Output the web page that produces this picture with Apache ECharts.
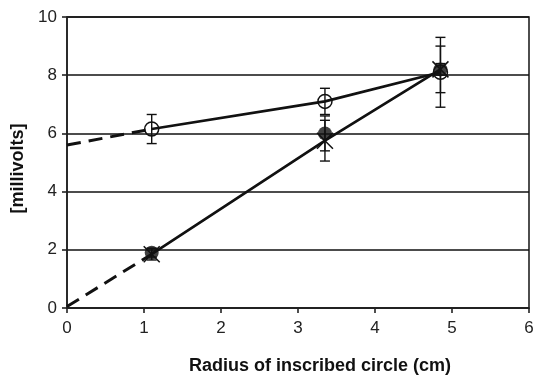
<!DOCTYPE html>
<html>
<head>
<meta charset="utf-8">
<script src="https://cdn.jsdelivr.net/npm/echarts@6/dist/echarts.min.js"></script>
<style>
  html, body { margin: 0; padding: 0; background: #fff; }
  #chart { width: 533px; height: 375px; }
</style>
</head>
<body>
<div id="chart"></div>
<script>
// radius of inscribed circle (cm)
const radii = [1.1, 3.35, 4.85]

// open circles
const openMean = [6.15, 7.1, 8.1]
const openErr = [0.5, 0.45, 1.2]
// filled circles
const filledMean = [1.9, 6.0, 8.2]
const filledErr = [0.15, 0.6, 0.2]
// crosses
const crossMean = [1.85, 5.75, 8.2]
const crossErr = [0.2, 0.7, 0.8]

// dashed extrapolation back to r = 0
const openExtrap = [[0, 5.6], [1.1, 6.15]]
const crossExtrap = [[0, 0.05], [1.1, 1.85]]

const xTicks = [0, 1, 2, 3, 4, 5, 6]
const yTicks = [0, 2, 4, 6, 8, 10]

const INK = '#111'
const FONT = 'Liberation Sans, Arial, sans-serif'

const pairs = (means) => radii.map((r, i) => [r, means[i]])
const errRows = (means, errs) =>
  radii.map((r, i) => [r, means[i] - errs[i], means[i] + errs[i]])

// vertical error bar with caps
const renderErr = (params, api) => {
  const x = api.value(0)
  const lo = api.coord([x, api.value(1)])
  const hi = api.coord([x, api.value(2)])
  const cap = 5
  const style = { stroke: INK, lineWidth: 1.4 }
  return {
    type: 'group',
    children: [
      { type: 'line', shape: { x1: lo[0], y1: lo[1], x2: hi[0], y2: hi[1] }, style },
      { type: 'line', shape: { x1: lo[0] - cap, y1: lo[1], x2: lo[0] + cap, y2: lo[1] }, style },
      { type: 'line', shape: { x1: hi[0] - cap, y1: hi[1], x2: hi[0] + cap, y2: hi[1] }, style },
    ],
  }
}

const errSeries = (means, errs) => ({
  type: 'custom',
  renderItem: renderErr,
  data: errRows(means, errs),
  encode: { x: 0, y: [1, 2] },
  silent: true,
  z: 3,
})

const chart = echarts.init(document.getElementById('chart'), null, { renderer: 'canvas' })

chart.setOption({
  animation: false,
  backgroundColor: '#fff',
  grid: {
    left: 67, right: 4, top: 17, bottom: 67,
    outerBoundsMode: 'none',
    show: true, borderColor: '#222', borderWidth: 1.6,
  },
  xAxis: {
    type: 'value',
    min: xTicks[0], max: xTicks[xTicks.length - 1], interval: 1,
    name: 'Radius of inscribed circle (cm)',
    nameLocation: 'middle',
    nameGap: 49,
    nameTextStyle: {
      fontFamily: FONT, fontWeight: 'bold', fontSize: 18, color: INK,
      padding: [0, 0, 0, 44],
    },
    axisLine: { lineStyle: { color: '#222', width: 1.6 } },
    axisTick: { show: true, length: 5, lineStyle: { color: '#222', width: 1.6 } },
    axisLabel: { fontFamily: FONT, fontSize: 17, color: '#222', margin: 12 },
    splitLine: { show: false },
  },
  yAxis: {
    type: 'value',
    min: yTicks[0], max: yTicks[yTicks.length - 1], interval: 2,
    name: '[millivolts]',
    nameLocation: 'middle',
    nameGap: 38,
    nameTextStyle: {
      fontFamily: FONT, fontWeight: 'bold', fontSize: 18, color: INK,
      padding: [0, 12, 0, 0],
    },
    axisLine: { lineStyle: { color: '#222', width: 1.6 } },
    axisTick: { show: true, length: 5, lineStyle: { color: '#222', width: 1.6 } },
    axisLabel: { fontFamily: FONT, fontSize: 17, color: '#222', margin: 10 },
    splitLine: { show: true, lineStyle: { color: '#111', width: 1.6 } },
  },
  series: [
    errSeries(openMean, openErr),
    errSeries(crossMean, crossErr),
    errSeries(filledMean, filledErr),
    {
      name: 'open extrapolation',
      type: 'line',
      data: openExtrap,
      showSymbol: false,
      lineStyle: { color: INK, width: 3, type: [14, 8] },
      z: 2,
    },
    {
      name: 'cross extrapolation',
      type: 'line',
      data: crossExtrap,
      showSymbol: false,
      lineStyle: { color: INK, width: 3, type: [14, 8] },
      z: 2,
    },
    {
      name: 'open',
      type: 'line',
      data: pairs(openMean),
      symbol: 'circle',
      symbolSize: 14,
      itemStyle: { color: 'rgba(0,0,0,0)', borderColor: INK, borderWidth: 1.5 },
      lineStyle: { color: INK, width: 2.7 },
      z: 4,
    },
    {
      name: 'cross',
      type: 'line',
      data: pairs(crossMean),
      symbol: 'path://M0,0L10,10M10,0L0,10',
      symbolSize: 16,
      itemStyle: { color: 'rgba(0,0,0,0)', borderColor: INK, borderWidth: 1.5 },
      lineStyle: { color: INK, width: 2.7 },
      z: 4,
    },
    {
      name: 'filled',
      type: 'scatter',
      data: pairs(filledMean),
      symbol: 'circle',
      symbolSize: 14,
      itemStyle: { color: INK },
      z: 5,
    },
  ],
})
</script>
</body>
</html>
